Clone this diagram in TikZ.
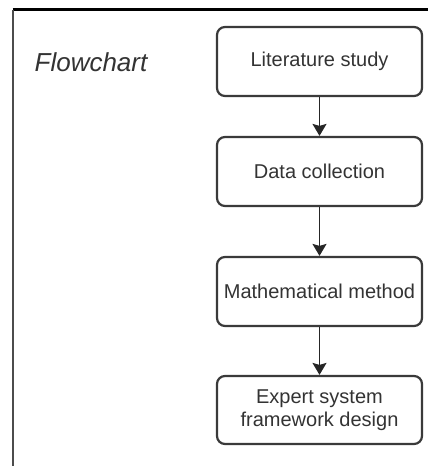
\documentclass[tikz,border=0pt]{standalone}
\usepackage{fontspec}
\setmainfont{Liberation Sans}
\usetikzlibrary{arrows.meta}
\definecolor{boxline}{HTML}{3A3A3A}
\definecolor{txt}{HTML}{333333}
\begin{document}
\begin{tikzpicture}[x=1pt,y=-1pt,
  stepbox/.style={draw=boxline,line width=2.2pt,rounded corners=8pt,minimum width=205pt,minimum height=69pt,inner sep=0pt,align=center,text=txt,font=\fontsize{20}{23}\selectfont},
  flowarrow/.style={draw=black!85,line width=1.7pt,-{Stealth[length=12pt,width=14pt,inset=2pt]}}]
\useasboundingbox (0,0) rectangle (428,466);
\coordinate (tl) at (12.7,9.5);
\coordinate (tr) at (428,9.5);
\coordinate (bl) at (12.7,466);
\draw[line width=2.2pt,black] (tl) -- (tr);
\draw[line width=1.6pt,black!70] (tl) -- (bl);
\node[text=txt,font=\fontsize{26}{30}\selectfont\itshape] (title) at (91,62) {Flowchart};
\node[stepbox] (b1) at (319.5,61.5) {Literature study};
\node[stepbox] (b2) at (319.5,171.5) {Data collection};
\node[stepbox] (b3) at (319.5,291.5) {Mathematical method};
\node[stepbox,minimum height=68pt] (b4) at (319.5,410) {Expert system\\framework design};
\draw[flowarrow] (b1) -- (b2);
\draw[flowarrow] (b2) -- (b3);
\draw[flowarrow] (b3) -- (b4);
\end{tikzpicture}
\end{document}
